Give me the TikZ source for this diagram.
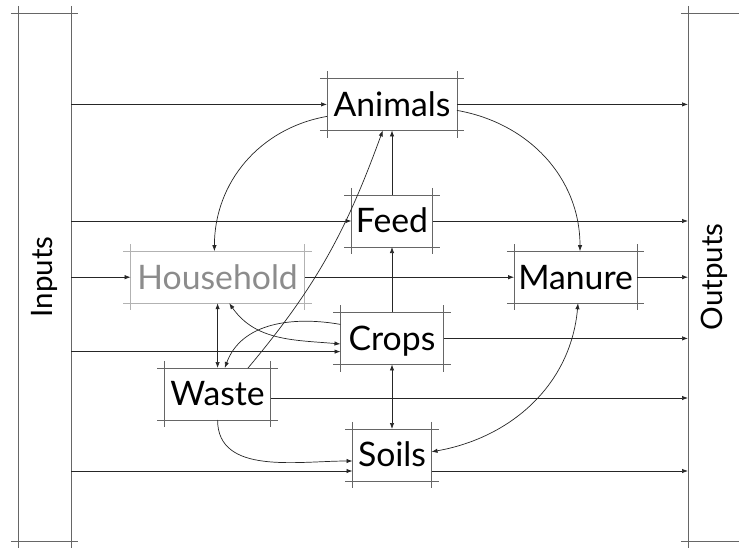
\documentclass[tikz,border=0pt]{standalone}
\usepackage{fontspec}
\setmainfont{Lato}
\usetikzlibrary{positioning,arrows.meta}
\tikzset{
  flowarrow/.style={-{Latex[length=1.5mm,width=1.1mm]}, line width=0.5pt, draw=black!85},
  twoway/.style={{Latex[length=1.5mm,width=1.1mm]}-{Latex[length=1.5mm,width=1.1mm]}, line width=0.5pt, draw=black!85},
  pool/.style={inner sep=0pt, outer sep=0pt, minimum height=1.3cm, text height=17pt, text depth=0pt, font=\fontsize{24}{28}\selectfont},
  bound/.style={inner sep=0pt, outer sep=0pt, minimum width=1.325cm, minimum height=13.2cm, font=\fontsize{21}{25}\selectfont},
  frameline/.style={draw=black!60, line width=0.7pt},
  fadedline/.style={draw=black!30, line width=0.7pt}
}
% four open edges that run past the corners
\newcommand{\crossframe}[2][frameline]{%
  \draw[#1] ([xshift=-1.8mm]#2.north west) -- ([xshift=1.8mm]#2.north east)
    ([xshift=-1.8mm]#2.south west) -- ([xshift=1.8mm]#2.south east)
    ([yshift=1.8mm]#2.north west) -- ([yshift=-1.8mm]#2.south west)
    ([yshift=1.8mm]#2.north east) -- ([yshift=-1.8mm]#2.south east);}

\begin{document}
\begin{tikzpicture}
  \clip (0,0) rectangle (18.475,13.7);
  % side bars
  \node[bound] (inputs) at (1.1125,6.775) {\rotatebox{90}{Inputs}};
  \node[bound] (outputs) at (17.8625,6.775) {\rotatebox{90}{Outputs}};
  % pools
  \node[pool, minimum width=3.25cm] (animals) at (9.8,11.09) {Animals};
  \node[pool, minimum width=2.025cm] (feed) at (9.8,8.175) {Feed};
  \node[pool, minimum width=4.35cm, text=black!45] (household) at (5.44,6.77) {Household};
  \node[pool, minimum width=3.075cm] (manure) at (14.39,6.77) {Manure};
  \node[pool, minimum width=2.575cm] (crops) at (9.8,5.24) {Crops};
  \node[pool, minimum width=2.65cm] (waste) at (5.44,3.85) {Waste};
  \node[pool, minimum width=1.975cm] (soils) at (9.8,2.325) {Soils};
  \crossframe{inputs}
  \crossframe{outputs}
  \crossframe{animals}
  \crossframe{feed}
  \crossframe[fadedline]{household}
  \crossframe{manure}
  \crossframe{crops}
  \crossframe{waste}
  \crossframe{soils}

  % in from the left
  \coordinate (cropsin) at ([yshift=-3.3mm]crops.west);
  \coordinate (soilsin) at ([yshift=-4mm]soils.west);
  \draw[flowarrow] (inputs.east |- animals) -- (animals);
  \draw[flowarrow] (inputs.east |- feed) -- (feed);
  \draw[flowarrow] (inputs.east |- household) -- (household);
  \draw[flowarrow] (inputs.east |- cropsin) -- (cropsin);
  \draw[flowarrow] (inputs.east |- soilsin) -- (soilsin);

  % out to the right
  \coordinate (wasteout) at ([yshift=-1mm]waste.east);
  \coordinate (soilsout) at ([yshift=-4mm]soils.east);
  \draw[flowarrow] (animals) -- (outputs.west |- animals);
  \draw[flowarrow] (feed) -- (outputs.west |- feed);
  \draw[flowarrow] (manure) -- (outputs.west |- manure);
  \draw[flowarrow] (crops) -- (outputs.west |- crops);
  \draw[flowarrow] (wasteout) -- (outputs.west |- wasteout);
  \draw[flowarrow] (soilsout) -- (outputs.west |- soilsout);

  % between the pools
  \draw[flowarrow] (household) -- (manure);
  \draw[flowarrow] (feed) -- (animals);
  \draw[flowarrow] (crops) -- (feed);
  \draw[twoway] (crops) -- (soils);
  \draw[twoway] (household) -- (waste);
  \draw[flowarrow] ([yshift=-3mm]animals.west) to[out=190,in=90] ([xshift=-0.8mm]household.north);
  \draw[flowarrow] ([yshift=-1.5mm]animals.east) to[out=-10,in=90] ([xshift=1.1mm]manure.north);
  \draw[twoway] ([xshift=2.9mm]household.south) to[out=-55,in=175] ([yshift=-1.4mm]crops.west);
  \draw[flowarrow] ([yshift=3.5mm]crops.west) to[out=170,in=70] ([xshift=1.8mm]waste.north);
  \draw[flowarrow] ([xshift=7.6mm]waste.north) to[out=50,in=-110] ([xshift=-2.3mm]animals.south);
  \draw[flowarrow] (waste.south) to[out=-90,in=180] ([yshift=-1.5mm]soils.west);
  \draw[twoway] ([xshift=0.6mm]manure.south) to[out=-95,in=10] ([yshift=0.8mm]soils.east);
\end{tikzpicture}
\end{document}
